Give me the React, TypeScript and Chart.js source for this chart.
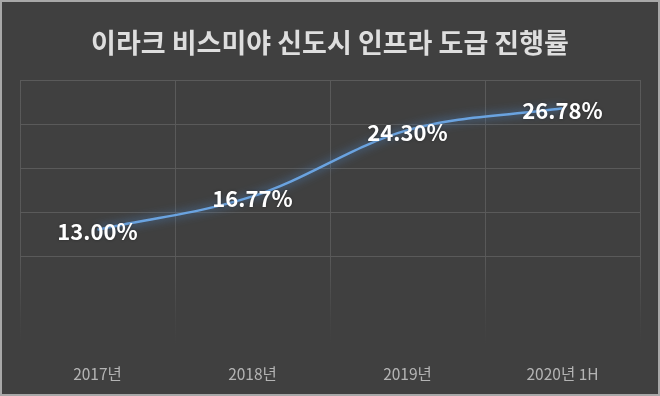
import React, { useEffect, useRef } from "react";
import { Chart, registerables } from "chart.js";

Chart.register(...registerables);

const titleText = "이라크 비스미야 신도시 인프라 도급 진행률";
const categories = ["2017년", "2018년", "2019년", "2020년 1H"];
const progress = [13.0, 16.77, 24.3, 26.78];
const yMin = 0;
const yMax = 30;
const yStep = 5;

const bgPlugin = {
  id: "bgPlugin",
  beforeDraw(chart: any) {
    const { ctx, width, height } = chart;
    ctx.save();
    ctx.fillStyle = "#404040";
    ctx.fillRect(0, 0, width, height);
    ctx.strokeStyle = "#a8a8a8";
    ctx.lineWidth = 2;
    ctx.strokeRect(1, 1, width - 2, height - 2);
    ctx.restore();
  },
};

const glowPlugin = {
  id: "glowPlugin",
  beforeDatasetDraw(chart: any) {
    const ctx = chart.ctx;
    ctx.save();
    ctx.shadowColor = "rgba(80,150,230,0.9)";
    ctx.shadowBlur = 10;
  },
  afterDatasetDraw(chart: any) {
    chart.ctx.restore();
  },
};

const labelPlugin = {
  id: "labelPlugin",
  afterDatasetsDraw(chart: any) {
    const ctx = chart.ctx;
    const meta = chart.getDatasetMeta(0);
    ctx.save();
    ctx.font = "bold 22px 'Noto Sans CJK KR', 'Noto Sans', sans-serif";
    ctx.textAlign = "center";
    ctx.textBaseline = "middle";
    ctx.fillStyle = "#ffffff";
    ctx.shadowColor = "rgba(0,0,0,0.35)";
    ctx.shadowBlur = 3;
    meta.data.forEach((pt: any, i: number) => {
      const v = progress[i];
      ctx.fillText(v.toFixed(2) + "%", pt.x, pt.y + 2);
    });
    ctx.restore();
  },
};

export default function App() {
  const ref = useRef<HTMLCanvasElement | null>(null);
  useEffect(() => {
    document.body.style.margin = "0";
    const canvas = ref.current!;
    const chart = new Chart(canvas, {
      type: "line",
      data: {
        labels: categories,
        datasets: [
          {
            data: progress,
            borderColor: "#6aa3e0",
            borderWidth: 2.5,
            pointRadius: 0,
            tension: 0.35,
            fill: false,
          },
        ],
      },
      options: {
        animation: false,
        responsive: false,
        maintainAspectRatio: false,
        layout: { padding: { left: 20, right: 20, top: 0, bottom: 0 } },
        plugins: {
          legend: { display: false },
          tooltip: { enabled: false },
          title: {
            display: true,
            text: titleText,
            color: "#dedede",
            font: { family: "'Noto Sans CJK KR', sans-serif", size: 27, weight: "bold" },
            padding: { top: 26.8, bottom: 20.8 },
          },
        },
        scales: {
          x: {
            offset: true,
            border: { display: false },
            afterFit: (scale: any) => {
              scale.height = 52;
            },
            grid: {
              offset: true,
              drawTicks: false,
              tickLength: 0,
              color: (c: any) => {
                const area = c.chart.chartArea;
                if (!area) return "#595959";
                const g = c.chart.ctx.createLinearGradient(0, area.top, 0, area.bottom);
                g.addColorStop(0, "#5a5a5a");
                g.addColorStop(0.68, "#585858");
                g.addColorStop(0.9, "#454545");
                g.addColorStop(1, "#404040");
                return g;
              },
            },
            ticks: {
              color: "#b4b4b4",
              padding: 21,
              font: { family: "'Noto Sans CJK KR', sans-serif", size: 15.5 },
            },
          },
          y: {
            min: yMin,
            max: yMax,
            border: { display: false },
            grid: {
              drawTicks: false,
              tickLength: 0,
              color: (c: any) => (c.tick && c.tick.value >= 10 ? "#5a5a5a" : "rgba(0,0,0,0)"),
            },
            ticks: { display: false, stepSize: yStep },
          },
        },
      },
      plugins: [bgPlugin, glowPlugin, labelPlugin],
    });
    return () => chart.destroy();
  }, []);
  return <canvas ref={ref} width={660} height={396} style={{ display: "block" }} />;
}
